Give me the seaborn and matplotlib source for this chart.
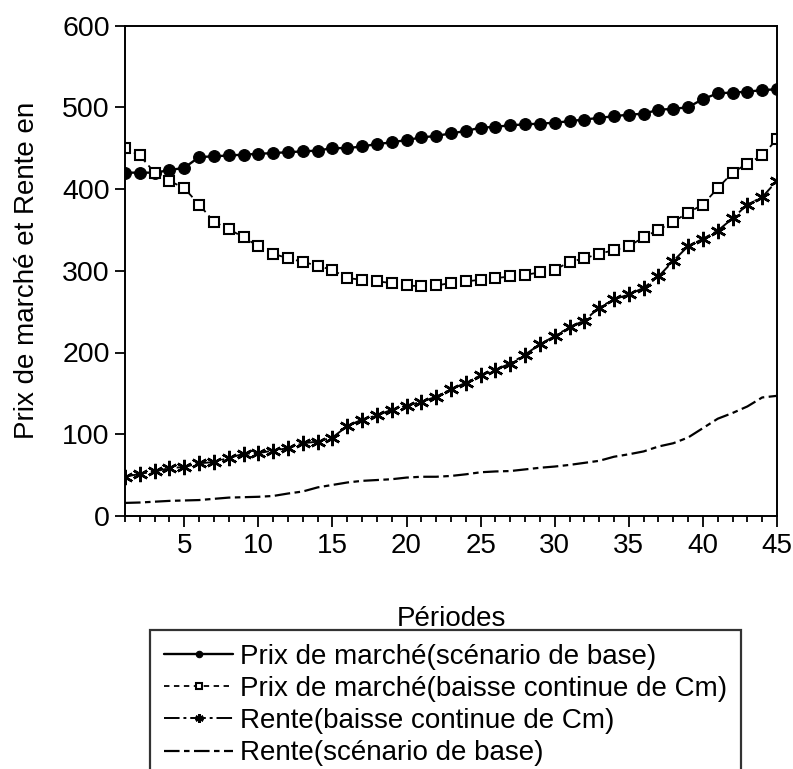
import numpy as np
import pandas as pd
import matplotlib
matplotlib.use("Agg")
import matplotlib.pyplot as plt
from matplotlib.ticker import MultipleLocator
import seaborn as sns

sns.set_theme(style="white")
plt.rcParams["font.family"] = ["Liberation Sans", "DejaVu Sans"]
plt.rcParams["text.color"] = "black"
plt.rcParams["axes.labelcolor"] = "black"
plt.rcParams["xtick.color"] = "black"
plt.rcParams["ytick.color"] = "black"

# data
periodes = list(range(1, 46))
prix_base = [420, 420, 420, 423, 426, 439, 440, 441, 442, 443,
             444, 445, 446, 447, 450, 450, 452, 455, 457, 460,
             463, 465, 468, 471, 475, 476, 478, 479, 480, 481,
             483, 485, 487, 489, 491, 492, 497, 498, 500, 510,
             517, 518, 519, 521, 522]
prix_baisse = [450, 441, 420, 410, 401, 381, 360, 351, 341, 330,
               321, 315, 311, 306, 301, 291, 289, 287, 285, 282,
               281, 282, 285, 287, 289, 291, 293, 295, 298, 301,
               311, 315, 321, 325, 330, 341, 350, 360, 371, 381,
               401, 420, 431, 441, 461]
rente_baisse = [48, 51.5, 54.5, 58.5, 60, 64.5, 66, 71, 76, 77,
                80, 83, 89, 91, 96, 110, 118, 123, 130, 135,
                139.5, 146, 155, 163, 172, 179, 186.5, 197.5, 210, 220,
                231, 239, 255, 265, 271, 279, 293, 312, 330, 339,
                349, 364, 381, 390, 410]
rente_base = [16, 16.5, 17.5, 18.5, 19, 19.5, 21, 22.5, 23, 23.5,
              24.5, 27.5, 30, 35, 38, 41, 43, 44, 45, 47,
              48, 48, 49, 51, 53.5, 54.5, 55, 57, 59, 60.5,
              62.5, 65, 67.5, 72.5, 75.5, 79, 85, 89, 96, 107.5,
              119, 126, 134, 145, 147]

labels = ["Prix de marché(scénario de base)",
          "Prix de marché(baisse continue de Cm)",
          "Rente(baisse continue de Cm)",
          "Rente(scénario de base)"]

df = pd.DataFrame({
    "periode": periodes * 4,
    "valeur": prix_base + prix_baisse + rente_baisse + rente_base,
    "serie": np.repeat(labels, len(periodes)),
})

styles = {
    labels[0]: dict(marker="o", markersize=8.5, linestyle="-", linewidth=1.7,
                    markerfacecolor="black", markeredgecolor="black"),
    labels[1]: dict(marker="s", markersize=7.5, linestyle=(0, (3, 2.5)), linewidth=1.3,
                    markerfacecolor="white", markeredgecolor="black", markeredgewidth=1.5),
    labels[2]: dict(marker=(6, 2, 0), markersize=11, linestyle=(0, (8, 2, 1.5, 2)),
                    linewidth=1.4, markeredgecolor="black", markeredgewidth=1.8),
    labels[3]: dict(marker=None, linestyle=(0, (7, 2, 2.5, 2)), linewidth=1.6),
}

fig = plt.figure(figsize=(7.93, 7.69), dpi=100)
ax = fig.add_axes([125 / 793, 1 - 516 / 769, 652 / 793, 490.5 / 769])

for lab in labels:
    sub = df[df["serie"] == lab]
    sns.lineplot(data=sub, x="periode", y="valeur", color="black", ax=ax,
                 label=lab, legend=False, **styles[lab])

ax.set_xlim(1, 45)
ax.set_ylim(0, 600)
ax.xaxis.set_major_locator(MultipleLocator(5))
ax.xaxis.set_minor_locator(MultipleLocator(1))
ax.yaxis.set_major_locator(MultipleLocator(100))

ax.tick_params(axis="x", which="major", direction="out", length=8, width=1.3,
               labelsize=20, pad=4, bottom=True, top=False)
ax.tick_params(axis="x", which="minor", direction="out", length=4.5, width=1.3,
               bottom=True, top=False)
ax.tick_params(axis="y", which="major", direction="out", length=7, width=1.3,
               labelsize=20.5, pad=4, left=True, right=False)

for sp in ax.spines.values():
    sp.set_color("black")
    sp.set_linewidth(1.4)

ax.set_xlabel("Périodes", fontsize=20, labelpad=34)
ax.set_ylabel("Prix de marché et Rente en", fontsize=20, labelpad=16)

handles, labs = ax.get_legend_handles_labels()
leg = fig.legend(handles, labs, loc="upper left",
                 bbox_to_anchor=(150 / 793, 1 - 630 / 769),
                 borderaxespad=0, fontsize=20, frameon=True, fancybox=False,
                 edgecolor="black", handlelength=2.5, handletextpad=0.25,
                 labelspacing=0.22, borderpad=0.5, markerscale=0.55)
leg.get_frame().set_linewidth(1.6)

fig.savefig("out.png", dpi=100, facecolor="white")
